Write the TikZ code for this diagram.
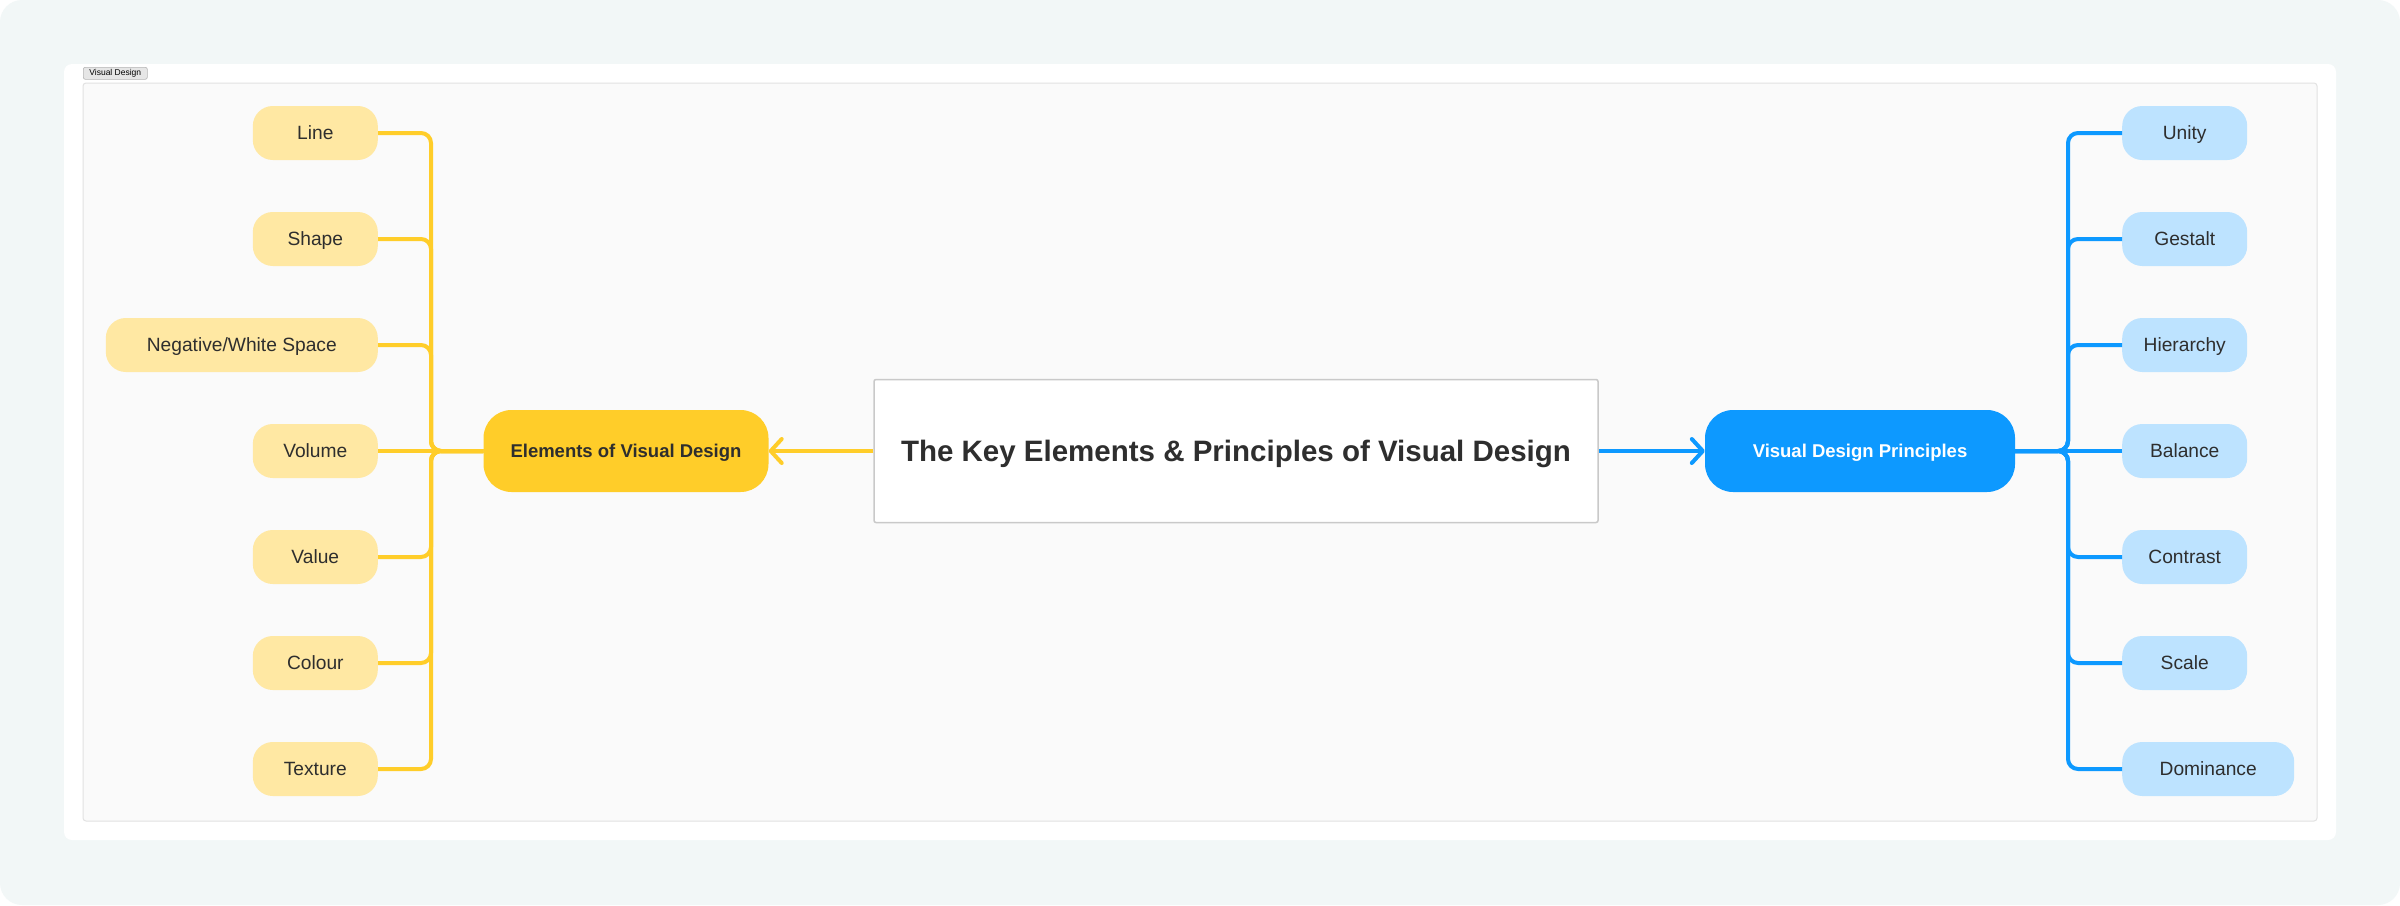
\documentclass[tikz,border=0pt]{standalone}
\usepackage{fontspec}
\setmainfont{Liberation Sans}
\usepackage{xcolor}
\usetikzlibrary{arrows.meta,positioning}
\definecolor{pagebg}{HTML}{F2F7F7}
\definecolor{framebg}{HTML}{FAFAFA}
\definecolor{frameline}{HTML}{E2E2E2}
\definecolor{taggray}{HTML}{E6E6E6}
\definecolor{boxline}{HTML}{C9C9C9}
\definecolor{ink}{HTML}{2E2E2E}
\definecolor{elemyellow}{HTML}{FFCD29}
\definecolor{leafyellow}{HTML}{FFE8A3}
\definecolor{prinblue}{HTML}{0D99FF}
\definecolor{leafblue}{HTML}{BDE3FF}

\begin{document}
\begin{tikzpicture}[x=1pt,y=-1pt]
         \tikzset{leaf/.style={rounded corners=20pt,minimum width=125pt,minimum height=54pt,inner xsep=18pt,text height=13.8pt,text depth=0pt,font=\fontsize{19.2}{23}\selectfont,text=ink}}
         \tikzset{leafL/.style={leaf,fill=leafyellow,anchor=east}}
         \tikzset{leafR/.style={leaf,fill=leafblue,anchor=west}}
         \tikzset{hub/.style={rounded corners=28pt,minimum height=82pt,text height=13.4pt,text depth=0pt,font=\fontsize{18.5}{22}\selectfont\bfseries}}
         \tikzset{elbow/.style={line width=4pt,rounded corners=10pt}}
         \tikzset{tip/.style={-{Straight Barb[length=11pt,width=24pt,round]}}}
         \fill[white] (0,0) rectangle (2400,905);
         \fill[pagebg,rounded corners=22pt] (0,0) rectangle (2400,905);
         \fill[white,rounded corners=8pt] (64,64) rectangle (2336,840);
         \draw[frameline,fill=framebg,line width=1pt,rounded corners=3pt] (83,83) rectangle (2317,821);
         \node[anchor=north west,fill=taggray,draw=frameline!80!black,line width=.6pt,rounded corners=2pt,inner sep=0pt,minimum width=64pt,minimum height=12pt,font=\fontsize{8.5}{9}\selectfont,text=black] (tag) at (83,67) {Visual Design};
         \node[draw=boxline,fill=white,line width=1.5pt,rounded corners=2pt,minimum width=724pt,minimum height=143pt,text height=21pt,text depth=0pt,font=\fontsize{29.5}{34}\selectfont\bfseries,text=ink] (title) at (1236,451) {The Key Elements \& Principles of Visual Design};
         \node[hub,fill=elemyellow,text=ink,minimum width=285pt] (elem) at (626,451) {Elements of Visual Design};
         \node[hub,fill=prinblue,text=white,minimum width=310pt] (prin) at (1860,451) {Visual Design Principles};
         \coordinate (ltrunk) at (431,451);
         \coordinate (rtrunk) at (2068,451);
         \foreach \name/\txt/\w [count=\i from 0] in {line/Line/125,shape/Shape/125,space/{Negative/White Space}/272,volume/Volume/125,value/Value/125,colour/Colour/125,texture/Texture/125}
            \node[leafL,minimum width=\w pt] (\name) at (378,133+106*\i) {\txt};
         \foreach \name/\txt/\w [count=\i from 0] in {unity/Unity/125,gestalt/Gestalt/125,hierarchy/Hierarchy/125,balance/Balance/125,contrast/Contrast/125,scale/Scale/125,dominance/Dominance/172}
            \node[leafR,minimum width=\w pt] (\name) at (2122,133+106*\i) {\txt};
         \foreach \name in {line,shape,space,value,colour,texture}
            \draw[elbow,elemyellow] (\name.east) -| (ltrunk) -- (elem.west);
         \draw[elbow,elemyellow] (volume.east) -- (elem.west);
         \foreach \name in {unity,gestalt,hierarchy,contrast,scale,dominance}
            \draw[elbow,prinblue] (\name.west) -| (rtrunk) -- (prin.east);
         \draw[elbow,prinblue] (balance.west) -- (prin.east);
         \draw[elbow,tip,elemyellow] (title.west) -- (elem.east);
         \draw[elbow,tip,prinblue] (title.east) -- (prin.west);
      \end{tikzpicture}
\end{document}
